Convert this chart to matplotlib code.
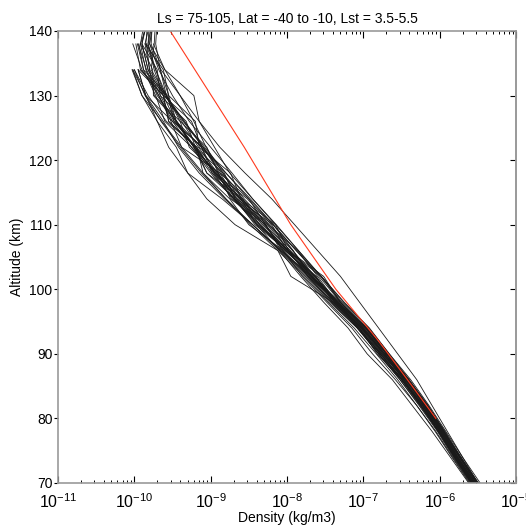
import numpy as np
import matplotlib
matplotlib.use("Agg")
from matplotlib import pyplot as plt
from matplotlib.ticker import LogLocator, FixedLocator, NullFormatter

plt.rcParams['font.family'] = ['Liberation Sans', 'DejaVu Sans']

# altitude levels (km) shared by all profiles
alt_km = [70, 74, 78, 82, 86, 90, 94, 98, 102, 106, 110, 114, 118, 122, 126, 130, 134, 138, 142]

# log10 density (kg/m3) of each measured profile, from 70 km upward
p01 = [-5.52, -5.74, -5.95, -6.17, -6.42, -6.70, -6.96, -7.30, -7.52, -7.98, -8.15, -8.60, -8.74, -9.15, -9.20, -9.55, -9.66, -9.78, -9.76]
p02 = [-5.58, -5.80, -6.01, -6.25, -6.50, -6.80, -7.08, -7.44, -7.76, -8.10, -8.45, -8.80, -9.12, -9.40, -9.65, -9.86, -10.00]
p03 = [-5.50, -5.70, -5.90, -6.10, -6.30, -6.55, -6.80, -7.05, -7.30, -7.60, -7.90, -8.20, -8.55, -8.88, -9.15, -9.40, -9.60, -9.75]
p04 = [-5.56, -5.80, -5.99, -6.22, -6.48, -6.78, -7.05, -7.40, -7.95, -8.12, -8.68, -9.05, -9.30, -9.45, -9.70, -9.85, -9.95]
p05 = [-5.60, -5.83, -6.05, -6.30, -6.58, -6.88, -7.15, -7.48, -7.80, -8.05, -8.50, -8.75, -9.10, -9.18, -9.55, -9.62, -9.92, -9.98]
p06 = [-5.47, -5.70, -5.92, -6.14, -6.38, -6.66, -6.93, -7.26, -7.55, -7.88, -8.18, -8.48, -8.80, -9.08, -9.35, -9.58, -9.72, -9.82, -9.80]
p07 = [-5.53, -5.77, -5.97, -6.20, -6.44, -6.70, -6.98, -7.33, -7.70, -7.92, -8.18, -8.66, -8.88, -9.38, -9.52, -9.68, -9.90, -10.02]
p08 = [-5.57, -5.79, -6.00, -6.22, -6.47, -6.75, -7.03, -7.38, -7.70, -8.00, -8.30, -8.58, -8.86, -9.10, -9.34, -9.60, -9.72, -9.85, -9.82]
p09 = [-5.62, -5.86, -6.10, -6.36, -6.62, -6.95, -7.20, -7.52, -7.82, -8.10, -8.40, -8.70, -9.00, -9.25, -9.50, -9.68, -9.84, -9.95]
p10 = [-5.50, -5.72, -5.93, -6.16, -6.40, -6.68, -6.95, -7.35, -7.60, -7.86, -8.25, -8.68, -8.82, -9.12, -9.25, -9.62, -9.82, -9.90]
p11 = [-5.54, -5.76, -5.96, -6.19, -6.45, -6.72, -7.02, -7.37, -7.66, -8.02, -8.38, -8.70, -8.98, -9.22, -9.45, -9.58, -9.78, -9.74, -9.72]
p12 = [-5.56, -5.78, -5.99, -6.23, -6.49, -6.78, -7.06, -7.40, -7.72, -8.05, -8.28, -8.74, -8.90, -9.05, -9.40, -9.58, -9.92]
p13 = [-5.49, -5.73, -5.94, -6.15, -6.40, -6.66, -6.92, -7.25, -7.55, -7.85, -8.15, -8.45, -8.72, -9.00, -9.28, -9.50, -9.68, -9.80, -9.78]
p14 = [-5.59, -5.82, -6.03, -6.27, -6.52, -6.80, -7.08, -7.42, -7.74, -8.08, -8.45, -8.82, -9.15, -9.42, -9.62, -9.85, -10.02]
p15 = [-5.52, -5.75, -5.96, -6.18, -6.43, -6.70, -6.97, -7.30, -7.55, -8.00, -8.20, -8.52, -8.95, -9.12, -9.45, -9.55, -9.62, -9.86]
p16 = [-5.55, -5.77, -5.97, -6.20, -6.44, -6.72, -7.00, -7.34, -7.66, -7.98, -8.32, -8.64, -8.95, -9.20, -9.48, -9.66, -9.82, -9.90, -9.84]
p17 = [-5.58, -5.81, -6.02, -6.25, -6.50, -6.77, -7.04, -7.37, -7.68, -8.08, -8.28, -8.50, -8.88, -9.10, -9.50, -9.85, -9.95]
p18 = [-5.51, -5.74, -5.95, -6.17, -6.42, -6.69, -6.97, -7.32, -7.64, -7.96, -8.26, -8.60, -8.93, -9.22, -9.46, -9.62, -9.74, -9.82, -9.76]
p19 = [-5.57, -5.80, -6.01, -6.24, -6.49, -6.76, -7.03, -7.36, -7.67, -8.00, -8.42, -8.68, -8.90, -9.25, -9.60, -9.72, -9.88, -9.96]
p20 = [-5.53, -5.76, -5.97, -6.19, -6.44, -6.72, -6.99, -7.34, -7.63, -7.93, -8.24, -8.56, -8.84, -9.06, -9.22, -9.40, -9.65, -9.84]
p21 = [-5.56, -5.79, -5.99, -6.22, -6.47, -6.74, -7.01, -7.36, -7.68, -8.02, -8.36, -8.66, -8.94, -9.20, -9.45, -9.70, -9.85, -9.92, -9.80]
p22 = [-5.54, -5.77, -5.98, -6.21, -6.46, -6.74, -7.02, -7.38, -7.62, -8.03, -8.34, -8.72, -8.96, -9.18, -9.58, -9.82, -10.00]
p23 = [-5.50, -5.73, -5.94, -6.16, -6.41, -6.68, -6.96, -7.30, -7.58, -7.88, -8.18, -8.50, -8.80, -9.10, -9.36, -9.60, -9.80, -9.84]
p24 = [-5.59, -5.81, -6.02, -6.26, -6.52, -6.80, -7.07, -7.42, -7.73, -7.98, -8.38, -8.68, -9.05, -9.22, -9.44, -9.75, -9.76, -9.92, -9.86]
p25 = [-5.55, -5.78, -5.98, -6.20, -6.45, -6.73, -7.01, -7.35, -7.64, -7.96, -8.29, -8.62, -8.91, -9.16, -9.38, -9.58, -9.66, -9.72, -9.70]
p26 = [-5.61, -5.84, -6.06, -6.30, -6.55, -6.83, -7.12, -7.46, -7.78, -8.12, -8.48, -8.80, -9.10, -9.38, -9.64, -9.90, -10.03]
p27 = [-5.52, -5.74, -5.95, -6.18, -6.42, -6.69, -6.95, -7.28, -7.56, -7.85, -8.14, -8.45, -8.75, -8.95, -9.15, -9.22, -9.60, -9.80, -9.74]
p28 = [-5.57, -5.80, -6.01, -6.24, -6.50, -6.78, -7.06, -7.40, -7.72, -8.08, -8.45, -8.85, -9.30, -9.55, -9.70, -9.90, -10.02]
p29 = [-5.54, -5.79, -6.02, -6.22, -6.50, -6.82, -7.05, -7.34, -7.72, -7.98, -8.40, -8.60, -9.05, -9.20, -9.55, -9.62, -9.95]
p30 = [-5.51, -5.72, -5.96, -6.20, -6.41, -6.70, -7.00, -7.30, -7.68, -7.92, -8.22, -8.62, -8.84, -9.20, -9.32, -9.66, -9.70, -9.90, -9.82]
p31 = [-5.58, -5.78, -5.98, -6.25, -6.47, -6.72, -7.02, -7.40, -7.62, -7.98, -8.36, -8.58, -8.98, -9.12, -9.48, -9.56, -9.88, -9.94]
p32 = [-5.56, -5.80, -6.00, -6.19, -6.44, -6.76, -7.08, -7.32, -7.70, -8.06, -8.28, -8.70, -8.92, -9.28, -9.40, -9.74, -9.80, -9.86, -9.78]
profiles = [p01, p02, p03, p04, p05, p06, p07, p08, p09, p10, p11, p12, p13, p14, p15, p16,
            p17, p18, p19, p20, p21, p22, p23, p24, p25, p26, p27, p28, p29, p30, p31, p32]

# model profile (red)
model_alt = [80, 85, 92, 100, 110, 122, 140]
model_log = [-6.05, -6.36, -6.80, -7.36, -7.95, -8.56, -9.53]

title = "Ls = 75-105, Lat = -40 to -10, Lst = 3.5-5.5"

fig = plt.figure(figsize=(5.26, 5.27), dpi=100)
ax = fig.add_axes([58 / 526, 1 - 483 / 527, 458 / 526, 452 / 527])

for p in profiles:
    ax.plot(10.0 ** np.array(p), alt_km[:len(p)], color='#1a1a1a', lw=0.6)
ax.plot(10.0 ** np.array(model_log), model_alt, color='#ff3a1e', lw=0.8)

ax.set_xscale('log')
ax.set_xlim(1e-11, 1e-5)
ax.set_ylim(70, 140)

ax.xaxis.set_major_locator(FixedLocator([10.0 ** e for e in range(-11, -4)]))
ax.set_xticklabels([r'$\mathregular{10^{%d}}$' % e for e in range(-11, -4)], fontsize=11.5)
ax.xaxis.set_minor_locator(LogLocator(base=10, subs=np.arange(2, 10)))
ax.xaxis.set_minor_formatter(NullFormatter())
ax.set_yticks(range(70, 141, 10))
ax.tick_params(axis='y', labelsize=10, direction='out', length=3, width=0.8, pad=1)
ax.tick_params(axis='x', which='major', direction='in', length=5, width=0.8,
               top=True, bottom=True, pad=7)
ax.tick_params(axis='x', which='minor', direction='in', length=2.5, width=0.7,
               top=True, bottom=True)

# right-hand ticks point inward
ry = ax.secondary_yaxis('right')
ry.set_yticks(range(70, 141, 10))
ry.tick_params(direction='in', length=4, width=0.8, labelright=False)

for a in (ax, ry):
    for s in a.spines.values():
        s.set_color('#999999')
        s.set_linewidth(1.2)

ax.set_xlabel('Density (kg/m3)', fontsize=10, labelpad=0)
ax.set_ylabel('Altitude (km)', fontsize=10, labelpad=4)
ax.set_title(title, fontsize=10, pad=6)

fig.savefig('out.png', dpi=100)
